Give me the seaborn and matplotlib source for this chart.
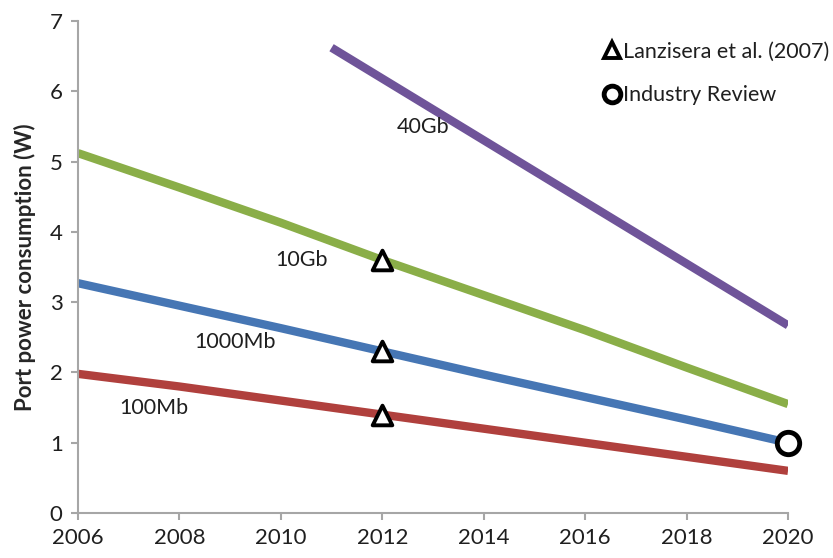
import pandas as pd
import numpy as np
import matplotlib.pyplot as plt
import seaborn as sns
from matplotlib.lines import Line2D

# data
years = [2006, 2008, 2010, 2012, 2014, 2016, 2018, 2020]
mb100 = [1.98, 1.80, 1.60, 1.40, 1.20, 1.00, 0.80, 0.60]
mb1000 = [3.27, 2.95, 2.63, 2.30, 1.97, 1.65, 1.33, 1.00]
gb10 = [5.12, 4.63, 4.13, 3.60, 3.10, 2.60, 2.07, 1.55]
years_40 = [2011, 2020]
gb40 = [6.62, 2.67]

# Lanzisera et al. (2007) points and industry review point
lanz_years = [2012, 2012, 2012]
lanz_vals = [3.60, 2.30, 1.40]
ind_years = [2020]
ind_vals = [1.00]

series_names = ["100Mb", "1000Mb", "10Gb", "40Gb"]
colores = {"100Mb": "#B0403D", "1000Mb": "#4676B4", "10Gb": "#8AAE48", "40Gb": "#6F5499"}

df = pd.concat([
    pd.DataFrame({"ano": years, "watts": mb100, "serie": "100Mb"}),
    pd.DataFrame({"ano": years, "watts": mb1000, "serie": "1000Mb"}),
    pd.DataFrame({"ano": years, "watts": gb10, "serie": "10Gb"}),
    pd.DataFrame({"ano": years_40, "watts": gb40, "serie": "40Gb"}),
])

sns.set_style("ticks")
plt.rcParams["font.family"] = ["Lato", "DejaVu Sans"]

fig = plt.figure(figsize=(8.33, 5.58), dpi=100)
ax = fig.add_axes([0.0936, 0.0806, 0.8524, 0.8818])

sns.lineplot(data=df, x="ano", y="watts", hue="serie", hue_order=series_names,
             palette=colores, linewidth=6, legend=False, ax=ax,
             solid_capstyle="butt")

sns.scatterplot(x=lanz_years, y=lanz_vals, marker="^", s=200, color="white",
                edgecolor="black", linewidth=2.8, zorder=5, ax=ax)
sns.scatterplot(x=ind_years, y=ind_vals, marker="o", s=260, color="white",
                edgecolor="black", linewidth=3.5, zorder=5, ax=ax, clip_on=False)

# line labels
txt = "#1F1F1F"
ax.text(2012.8, 5.49, "40Gb", fontsize=15.5, ha="center", va="center", color=txt)
ax.text(2010.4, 3.60, "10Gb", fontsize=15.5, ha="center", va="center", color=txt)
ax.text(2009.1, 2.43, "1000Mb", fontsize=15.5, ha="center", va="center", color=txt)
ax.text(2007.5, 1.50, "100Mb", fontsize=15.5, ha="center", va="center", color=txt)

ax.set_xlim(2006, 2020)
ax.set_ylim(0, 7)
ax.set_xticks(range(2006, 2021, 2))
ax.set_yticks(range(0, 8))
ax.set_xlabel("")
ax.set_ylabel("Port power consumption (W)", fontsize=16, fontweight="bold", labelpad=10)

for s in ["top", "right"]:
    ax.spines[s].set_visible(False)
for s in ["left", "bottom"]:
    ax.spines[s].set_color("#A6A6A6")
    ax.spines[s].set_linewidth(1.5)
ax.tick_params(axis="both", direction="out", length=5, width=1.5, color="#A6A6A6",
               labelsize=16, labelcolor=txt, pad=6)

handles = [
    Line2D([], [], linestyle="none", marker="^", markersize=11, markerfacecolor="white",
           markeredgecolor="black", markeredgewidth=2.8),
    Line2D([], [], linestyle="none", marker="o", markersize=12, markerfacecolor="white",
           markeredgecolor="black", markeredgewidth=3.5),
]
ax.legend(handles, ["Lanzisera et al. (2007)", "Industry Review"], loc="upper left",
          bbox_to_anchor=(0.704, 0.96), bbox_transform=fig.transFigure, frameon=False,
          fontsize=15.5, handlelength=0.6, handletextpad=0.2, labelspacing=1.1,
          labelcolor=txt)

fig.savefig("out.png", dpi=100)
